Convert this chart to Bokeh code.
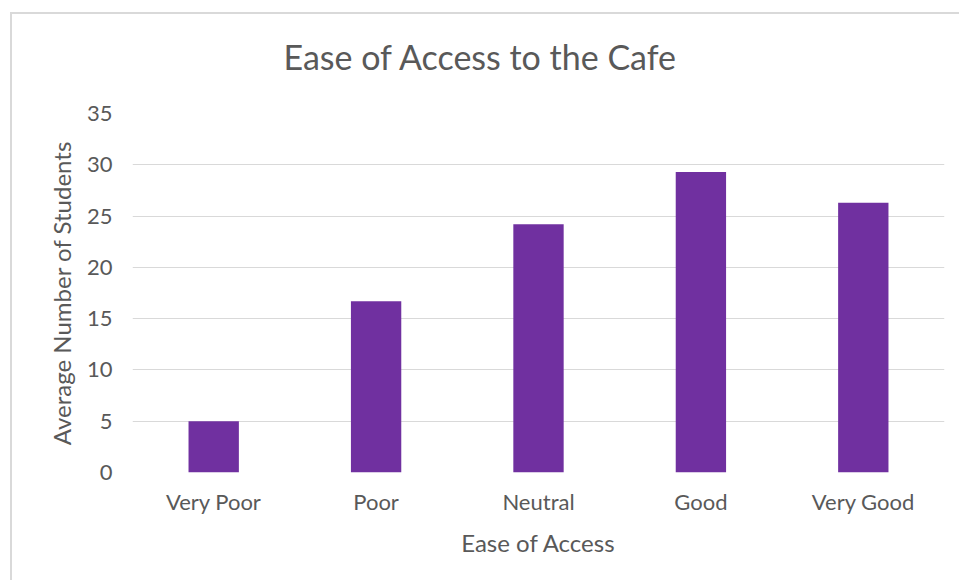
from bokeh.plotting import figure
from bokeh.models import Range1d, FactorRange, FixedTicker, ColumnDataSource
from bokeh.embed import file_html
from bokeh.resources import INLINE

categories = ["Very Poor", "Poor", "Neutral", "Good", "Very Good"]
values = [5.0, 16.7, 24.2, 29.3, 26.3]
y_ticks = [0, 5, 10, 15, 20, 25, 30, 35]
title_text = "Ease of Access to the Cafe"

FONT = "Lato"
TEXT = "#595959"
GRID = "#d9d9d9"
BAR = "#7030A0"

source = ColumnDataSource(data=dict(cat=categories, val=values))

p = figure(
    width=959, height=580,
    x_range=FactorRange(factors=categories, range_padding=0),
    y_range=Range1d(0, 35),
    output_backend="svg", toolbar_location=None,
    min_border_left=132, min_border_right=15,
    min_border_top=113, min_border_bottom=108,
    title=title_text,
)
# chart-area border (top and left edges only, as in the reference)
p.border_fill_color = None
p.background_fill_color = None
p.styles = {
    "background": (
        "linear-gradient(#d9d9d9, #d9d9d9) 10px 12px / 949px 2px no-repeat, "
        "linear-gradient(#d9d9d9, #d9d9d9) 10px 12px / 2px 568px no-repeat, #ffffff"
    )
}

p.vbar(x="cat", top="val", width=0.31, source=source, color=BAR, line_color=None)

p.title.align = "left"
p.title.offset = 151
p.title.vertical_align = "top"
p.title.standoff = 70
p.title.text_font = FONT
p.title.text_font_size = "34px"
p.title.text_font_style = "normal"
p.title.text_color = TEXT

p.outline_line_color = None
p.xgrid.grid_line_color = None
p.ygrid.grid_line_color = GRID
p.ygrid.grid_line_width = 1
p.yaxis.ticker = FixedTicker(ticks=y_ticks)

for ax in (p.xaxis, p.yaxis):
    ax.axis_line_color = None
    ax.major_tick_line_color = None
    ax.minor_tick_line_color = None
    ax.major_tick_out = 0
    ax.major_tick_in = 0
    ax.major_label_text_font = FONT
    ax.major_label_text_color = TEXT
    ax.major_label_text_font_size = "22px"
    ax.axis_label_text_font = FONT
    ax.axis_label_text_color = TEXT
    ax.axis_label_text_font_size = "24px"
    ax.axis_label_text_font_style = "normal"

p.xaxis.axis_label = "Ease of Access"
p.yaxis.axis_label = "Average Number of Students"
p.xaxis.major_label_standoff = 15
p.yaxis.major_label_standoff = 20
p.xaxis.axis_label_standoff = 10
p.yaxis.axis_label_standoff = 8

open("out.html", "w").write(file_html(p, INLINE))
